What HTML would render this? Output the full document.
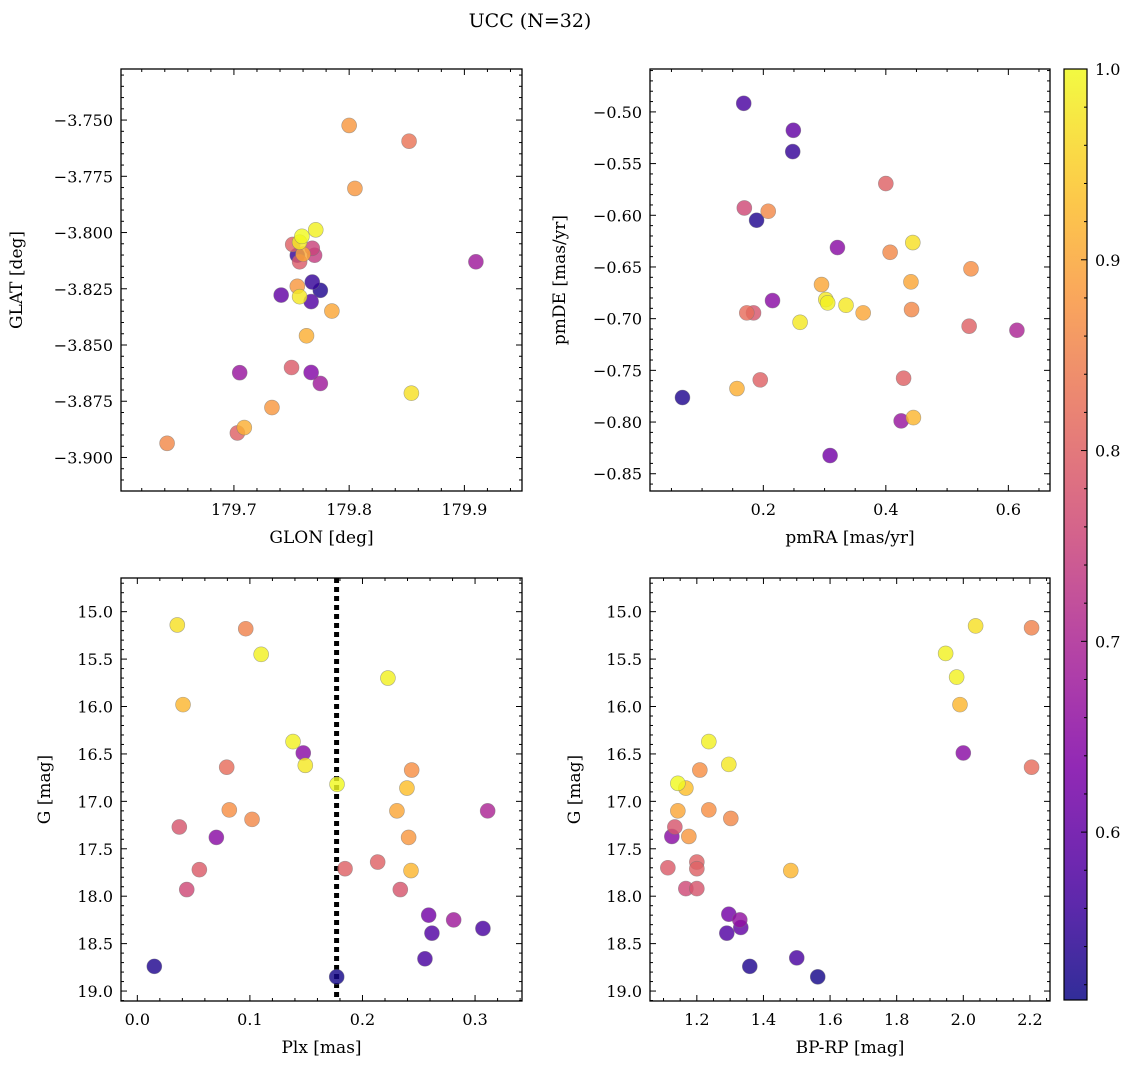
<!DOCTYPE html>
<html><head><meta charset="utf-8"><style>
body{margin:0;background:#fff;}
svg{display:block;font-family:"DejaVu Serif","Liberation Serif",serif;}
</style></head><body>
<svg id="fig" width="1136" height="1068" viewBox="0 0 1136 1068"></svg>
<script>
// ---- data ----
const p1Glon=[179.800,179.852,179.805,179.771,179.759,179.751,179.757,179.768,179.770,179.755,179.760,179.757,179.910,179.768,179.755,179.775,179.741,179.757,179.767,179.785,179.763,179.750,179.705,179.767,179.775,179.854,179.733,179.709,179.703,179.642];
const p1Glat=[-3.7524,-3.7594,-3.7804,-3.7988,-3.8017,-3.8053,-3.8043,-3.8070,-3.8101,-3.8101,-3.8096,-3.8130,-3.8130,-3.8220,-3.8239,-3.8257,-3.8278,-3.8285,-3.8307,-3.8349,-3.8459,-3.8600,-3.8623,-3.8622,-3.8671,-3.8714,-3.8778,-3.8867,-3.8891,-3.8937];
const p1Prob=[0.88,0.83,0.88,0.99,1.0,0.8,0.98,0.75,0.74,0.55,0.9,0.79,0.68,0.55,0.88,0.53,0.6,0.98,0.58,0.9,0.91,0.79,0.67,0.64,0.68,0.97,0.88,0.91,0.8,0.86];

const p2Pmra=[0.168,0.249,0.248,0.400,0.169,0.208,0.189,0.444,0.321,0.407,0.539,0.295,0.441,0.302,0.305,0.335,0.215,0.442,0.173,0.184,0.363,0.260,0.536,0.614,0.429,0.195,0.157,0.068,0.425,0.445,0.309];
const p2Pmde=[-0.4917,-0.5178,-0.5384,-0.5693,-0.5929,-0.5961,-0.6048,-0.6264,-0.6312,-0.6358,-0.6518,-0.6670,-0.6644,-0.6815,-0.6847,-0.6870,-0.6825,-0.6912,-0.6944,-0.6944,-0.6944,-0.7035,-0.7073,-0.7112,-0.7576,-0.7592,-0.7676,-0.7763,-0.7989,-0.7957,-0.8324];
const p2Prob=[0.57,0.6,0.55,0.8,0.76,0.86,0.53,0.97,0.65,0.86,0.87,0.9,0.9,0.98,0.99,0.98,0.65,0.86,0.82,0.78,0.9,0.98,0.8,0.7,0.8,0.8,0.91,0.53,0.67,0.92,0.62];

const p3Plx=[0.0355,0.0963,0.110,0.2226,0.0406,0.1383,0.1474,0.1492,0.0794,0.2437,0.1774,0.2395,0.0817,0.2306,0.3112,0.1019,0.0373,0.2410,0.0702,0.0551,0.1845,0.2135,0.2431,0.0439,0.2336,0.2588,0.2810,0.2617,0.3070,0.2555,0.0151,0.1771];
const p3G=[15.14,15.18,15.45,15.70,15.98,16.37,16.49,16.62,16.64,16.67,16.82,16.86,17.09,17.10,17.10,17.19,17.27,17.38,17.38,17.72,17.71,17.64,17.73,17.93,17.93,18.20,18.25,18.39,18.34,18.66,18.74,18.85];
const p3Prob=[0.97,0.85,0.99,0.99,0.92,0.99,0.65,0.98,0.82,0.87,1.0,0.93,0.87,0.9,0.7,0.86,0.78,0.88,0.65,0.79,0.8,0.8,0.92,0.76,0.78,0.62,0.68,0.58,0.57,0.57,0.53,0.52];
const plxLine=0.177;

const p4Bprp=[2.037,2.205,1.947,1.98,1.99,2.0,2.205,1.236,1.296,1.209,1.143,1.167,1.143,1.236,1.302,1.134,1.125,1.176,1.113,1.2,1.2,1.482,1.167,1.2,1.296,1.329,1.29,1.332,1.5,1.359,1.563];
const p4G=[15.15,15.17,15.44,15.69,15.98,16.49,16.64,16.37,16.61,16.67,16.81,16.86,17.10,17.09,17.18,17.27,17.37,17.37,17.70,17.64,17.71,17.73,17.92,17.92,18.19,18.25,18.39,18.33,18.65,18.74,18.85];
const p4Prob=[0.97,0.85,0.99,0.99,0.92,0.65,0.82,0.99,0.98,0.87,1.0,0.93,0.9,0.87,0.86,0.78,0.65,0.88,0.79,0.8,0.8,0.92,0.76,0.78,0.62,0.66,0.58,0.6,0.57,0.53,0.52];

const cbTicks=[0.6,0.7,0.8,0.9,1.0];
const vmin=0.512, vmax=1.0;

// ---- helpers ----
const NS="http://www.w3.org/2000/svg";
const svg=document.getElementById('fig');
function mk(tag,attrs,parent){const e=document.createElementNS(NS,tag);for(const k in attrs)e.setAttribute(k,attrs[k]);(parent||svg).appendChild(e);return e;}
const stops=[[0,[13,8,135]],[0.125,[76,2,161]],[0.25,[126,3,168]],[0.375,[168,34,150]],[0.5,[204,71,120]],[0.625,[229,107,93]],[0.75,[248,149,64]],[0.875,[253,197,39]],[1,[240,249,33]]];
function plasma(t){t=Math.max(0,Math.min(1,t));for(let i=1;i<stops.length;i++){if(t<=stops[i][0]){const a=stops[i-1],b=stops[i];const f=(t-a[0])/(b[0]-a[0]);const c=a[1].map((v,j)=>Math.round(v+(b[1][j]-v)*f));return `rgb(${c[0]},${c[1]},${c[2]})`;}}return 'rgb(240,249,33)';}
function cmap(p){return plasma((p-vmin)/(vmax-vmin));}

function panel(o){
  const g=mk('g',{});
  
  
  const sx=v=>o.x0+(v-o.xmin)/(o.xmax-o.xmin)*(o.x1-o.x0);
  const sy=v=>o.y1-(v-o.ymin)/(o.ymax-o.ymin)*(o.y1-o.y0);
  const eps=1e-9;
  const xlo=Math.min(o.xmin,o.xmax), xhi=Math.max(o.xmin,o.xmax);
  const ylo=Math.min(o.ymin,o.ymax), yhi=Math.max(o.ymin,o.ymax);
  for(let v=Math.ceil(xlo/o.xminor-eps)*o.xminor;v<=xhi+eps;v+=o.xminor){
    const X=sx(v);const maj=Math.abs(v/o.xmajor-Math.round(v/o.xmajor))<1e-6;const L=maj?6:3;
    mk('line',{x1:X,x2:X,y1:o.y1,y2:o.y1-L,stroke:'#000','stroke-width':1},g);
    mk('line',{x1:X,x2:X,y1:o.y0,y2:o.y0+L,stroke:'#000','stroke-width':1},g);
  }
  for(let v=Math.ceil(ylo/o.yminor-eps)*o.yminor;v<=yhi+eps;v+=o.yminor){
    const Y=sy(v);const maj=Math.abs(v/o.ymajor-Math.round(v/o.ymajor))<1e-6;const L=maj?6:3;
    mk('line',{x1:o.x0,x2:o.x0+L,y1:Y,y2:Y,stroke:'#000','stroke-width':1},g);
    mk('line',{x1:o.x1,x2:o.x1-L,y1:Y,y2:Y,stroke:'#000','stroke-width':1},g);
  }
  o.xticks.forEach(v=>{const t=mk('text',{x:sx(v),y:o.y1+24,'text-anchor':'middle','font-size':16},g);t.textContent=v.toFixed(o.xdec).replace('-','\u2212');
    
    });
  o.yticks.forEach(v=>{const t=mk('text',{x:o.x0-8,y:sy(v)+6,'text-anchor':'end','font-size':16},g);t.textContent=v.toFixed(o.ydec).replace('-','\u2212');
    
    });
  const xl=mk('text',{x:(o.x0+o.x1)/2,y:o.y1+52,'text-anchor':'middle','font-size':17},g);xl.textContent=o.xlabel;
  
  
  const yx=o.ylabx, yy=(o.y0+o.y1)/2;
  const yl=mk('text',{x:yx,y:yy,'text-anchor':'middle','font-size':17,transform:`rotate(-90 ${yx} ${yy})`},g);yl.textContent=o.ylabel;
  
  
  if(o.vline!==undefined){
    const l=mk('line',{x1:sx(o.vline),x2:sx(o.vline),y1:o.y0,y2:o.y1,stroke:'#000','stroke-width':5,'stroke-dasharray':'5 4'},g);
    
    
  }
  const idx=o.xs.map((_,i)=>i).sort((a,b)=>o.ps[a]-o.ps[b]);
  idx.forEach(i=>{
    const c=mk('circle',{cx:sx(o.xs[i]),cy:sy(o.ys[i]),r:7.5,fill:cmap(o.ps[i]),'fill-opacity':0.82,stroke:'#777','stroke-opacity':0.6,'stroke-width':0.6},g);
    
    
  });
  const f=mk('rect',{x:o.x0,y:o.y0,width:o.x1-o.x0,height:o.y1-o.y0,fill:'none',stroke:'#000','stroke-width':1.3},g);
  
  
}

const t=mk('text',{x:530,y:27,'text-anchor':'middle','font-size':19});
t.textContent='UCC (N=32)';



panel({name:'glon-glat-panel',x0:121,x1:522,y0:69,y1:491,xmin:179.602,xmax:179.950,ymin:-3.9149,ymax:-3.7273,
  xmajor:0.1,xminor:0.02,ymajor:0.025,yminor:0.005,xticks:[179.7,179.8,179.9],xdec:1,
  yticks:[-3.75,-3.775,-3.8,-3.825,-3.85,-3.875,-3.9],ydec:3,xlabel:'GLON [deg]',ylabel:'GLAT [deg]',ylabx:22,
  xs:p1Glon,ys:p1Glat,ps:p1Prob});
panel({name:'pm-panel',x0:650,x1:1050,y0:69,y1:491,xmin:0.015,xmax:0.668,ymin:-0.8667,ymax:-0.4585,
  xmajor:0.2,xminor:0.05,ymajor:0.05,yminor:0.01,xticks:[0.2,0.4,0.6],xdec:1,
  yticks:[-0.5,-0.55,-0.6,-0.65,-0.7,-0.75,-0.8,-0.85],ydec:2,xlabel:'pmRA [mas/yr]',ylabel:'pmDE [mas/yr]',ylabx:565,
  xs:p2Pmra,ys:p2Pmde,ps:p2Prob});
panel({name:'plx-g-panel',x0:121,x1:522,y0:578,y1:1001,xmin:-0.0145,xmax:0.3417,ymin:19.105,ymax:14.645,
  xmajor:0.1,xminor:0.02,ymajor:0.5,yminor:0.1,xticks:[0,0.1,0.2,0.3],xdec:1,
  yticks:[15,15.5,16,16.5,17,17.5,18,18.5,19],ydec:1,xlabel:'Plx [mas]',ylabel:'G [mag]',ylabx:50,
  xs:p3Plx,ys:p3G,ps:p3Prob,vline:plxLine});
panel({name:'cmd-panel',x0:650,x1:1050,y0:578,y1:1001,xmin:1.0594,xmax:2.2603,ymin:19.105,ymax:14.645,
  xmajor:0.2,xminor:0.05,ymajor:0.5,yminor:0.1,xticks:[1.2,1.4,1.6,1.8,2.0,2.2],xdec:1,
  yticks:[15,15.5,16,16.5,17,17.5,18,18.5,19],ydec:1,xlabel:'BP-RP [mag]',ylabel:'G [mag]',ylabx:580,
  xs:p4Bprp,ys:p4G,ps:p4Prob});

// colorbar
const cb=mk('g',{});


const defs=mk('defs',{},cb);
const lg=mk('linearGradient',{id:'cbg',x1:0,y1:1,x2:0,y2:0},defs);
for(let i=0;i<=20;i++){mk('stop',{offset:i/20,'stop-color':plasma(i/20),'stop-opacity':0.85},lg);}
const cx0=1064,cx1=1087,cy0=69,cy1=1000;
mk('rect',{x:cx0,y:cy0,width:cx1-cx0,height:cy1-cy0,fill:'url(#cbg)',stroke:'#000','stroke-width':1.2},cb);
const csy=v=>cy1-(v-vmin)/(vmax-vmin)*(cy1-cy0);
for(let v=0.52;v<=1.0001;v+=0.02){const Y=csy(v);const maj=Math.abs(v*10-Math.round(v*10))<1e-6;mk('line',{x1:cx1,x2:cx1-(maj?6:3),y1:Y,y2:Y,stroke:'#000'},cb);}
cbTicks.forEach(v=>{const tt=mk('text',{x:cx1+8,y:csy(v)+6,'font-size':16},cb);tt.textContent=v.toFixed(1);
  
  });
</script>
</body></html>
